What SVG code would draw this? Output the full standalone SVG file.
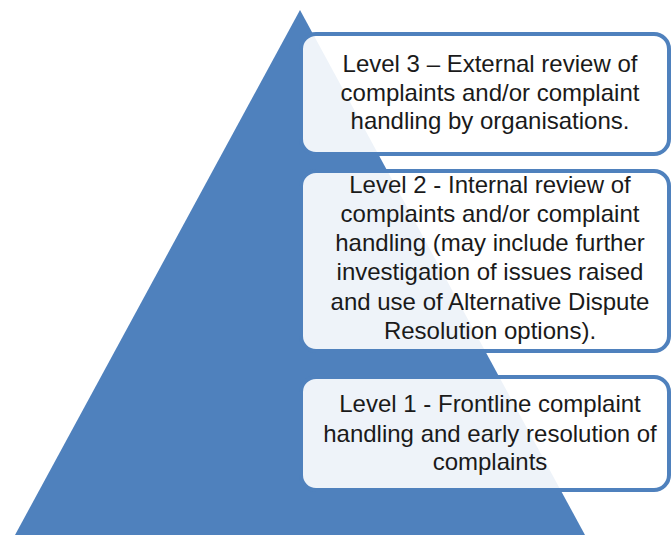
<svg xmlns="http://www.w3.org/2000/svg" width="672" height="535" viewBox="0 0 672 535">
<style>
.box{fill:#ffffff;fill-opacity:0.9;stroke:#4f81bd;stroke-width:4}
.t{font-family:"Liberation Sans",Arial,sans-serif;font-size:24px;fill:#1a1a1a;text-anchor:middle}
</style>
<rect width="672" height="535" fill="#ffffff"/>
<g id="pyramid">
<polygon points="300,10 15,535 585,535" fill="#4f81bd"/>
</g>
<g id="connectors"/>
<g id="level3">
<rect class="box" x="301" y="34" width="368" height="120" rx="15" ry="15"/>
<text class="t" x="490" y="72">Level 3 – External review of</text>
<text class="t" x="490" y="101">complaints and/or complaint</text>
<text class="t" x="490" y="129">handling by organisations.</text>
</g>
<g id="level2">
<rect class="box" x="301" y="171" width="368" height="180" rx="15" ry="15"/>
<text class="t" x="490" y="193">Level 2 - Internal review of</text>
<text class="t" x="490" y="222">complaints and/or complaint</text>
<text class="t" x="490" y="251">handling (may include further</text>
<text class="t" x="490" y="280">investigation of issues raised</text>
<text class="t" x="490" y="310">and use of Alternative Dispute</text>
<text class="t" x="490" y="339">Resolution options).</text>
</g>
<g id="level1">
<rect class="box" x="301" y="377" width="368" height="113" rx="15" ry="15"/>
<text class="t" x="490" y="412">Level 1 - Frontline complaint</text>
<text class="t" x="490" y="442">handling and early resolution of</text>
<text class="t" x="490" y="470">complaints</text>
</g>
</svg>
